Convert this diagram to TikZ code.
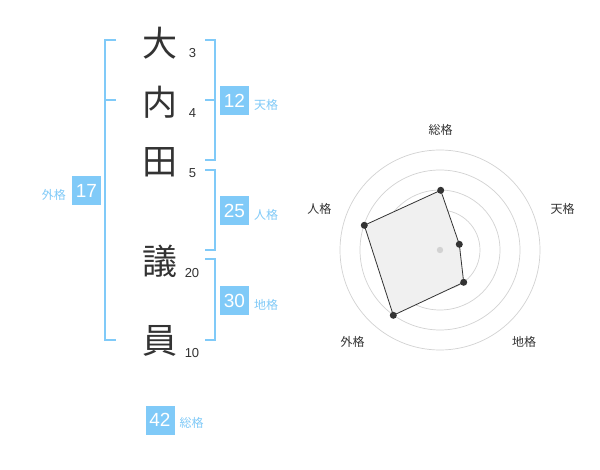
\documentclass[tikz,border=0pt]{standalone}
\usepackage{fontspec}
\setmainfont{Liberation Sans}
\newfontfamily\jp{Noto Sans CJK JP}
\definecolor{bracketblue}{RGB}{128,202,248}
\definecolor{boxblue}{RGB}{128,202,248}
\definecolor{ink}{RGB}{51,51,51}
\definecolor{ringgray}{RGB}{210,210,210}
\tikzset{
  kanji/.style={inner sep=0pt, text=ink, font=\jp\fontsize{35}{35}\selectfont},
  stroke/.style={inner sep=0pt, text=ink, font=\fontsize{13}{13}\selectfont},
  bracket/.style={draw=bracketblue, line width=2pt},
  scorebox/.style={fill=boxblue, text=white, minimum width=29pt, minimum height=29pt, inner sep=0pt, font=\fontsize{19}{19}\selectfont},
  gname/.style={inner sep=0pt, text=bracketblue, font=\jp\fontsize{12}{12}\selectfont},
  ring/.style={draw=ringgray, line width=0.7pt},
  axislabel/.style={inner sep=0pt, text=ink, font=\jp\fontsize{12}{12}\selectfont},
  vertex/.style={circle, fill=ink, inner sep=0pt, minimum size=7pt},
}
\begin{document}
\begin{tikzpicture}[x=1pt,y=-1pt]
\useasboundingbox[fill=white] (0,0) rectangle (600,470);
% kanji
\node[kanji] (k1) at (160,43.5) {大};
\node[kanji] (k2) at (160,102) {内};
\node[kanji] (k3) at (160,162) {田};
\node[kanji] (k4) at (160,261) {議};
\node[kanji] (k5) at (160,341) {員};
% stroke counts
\node[stroke] (s1) at (192.5,53.5) {3};
\node[stroke] (s2) at (192.5,113.5) {4};
\node[stroke] (s3) at (192.5,173.5) {5};
\node[stroke] (s4) at (192,273) {20};
\node[stroke] (s5) at (192,353) {10};
% left bracket (gaikaku)
\coordinate (la) at (116,40);
\coordinate (lb) at (116,340);
\coordinate (lm) at (116,100);
\draw[bracket] (la) -- (105,40) -- (105,340) -- (lb);
\draw[bracket] (105,100) -- (lm);
% right brackets
\coordinate (ra1) at (205,40);
\coordinate (ra2) at (205,160);
\coordinate (ram) at (205,100);
\draw[bracket] (ra1) -- (214.5,40) -- (214.5,160) -- (ra2);
\draw[bracket] (ram) -- (214.5,100);
\coordinate (rb1) at (205,170);
\coordinate (rb2) at (205,250);
\draw[bracket] (rb1) -- (214.5,170) -- (214.5,250) -- (rb2);
\coordinate (rc1) at (205,259.5);
\coordinate (rc2) at (205,340);
\draw[bracket] (rc1) -- (214.5,259.5) -- (214.5,340) -- (rc2);
% score boxes
\node[scorebox] (ten) at (234.5,100.5) {12};
\node[gname, anchor=west] (tenl) at (254,104.5) {\jp 天格};
\node[scorebox] (jin) at (234.5,210.5) {25};
\node[gname, anchor=west] (jinl) at (254,214.5) {\jp 人格};
\node[scorebox] (chi) at (234.5,300.5) {30};
\node[gname, anchor=west] (chil) at (254,304.5) {\jp 地格};
\node[scorebox] (gai) at (86.5,190.5) {17};
\node[gname, anchor=east] (gail) at (66,194.5) {\jp 外格};
\node[scorebox] (sou) at (160,420) {42};
\node[gname, anchor=west] (soul) at (179.5,423) {\jp 総格};
% radar
\coordinate (c) at (440,250);
\foreach \r in {20,40,60,80,100} \draw[ring] (c) circle[radius=\r];
\coordinate (p1) at (440.7,190.3);
\coordinate (p2) at (459.3,244.3);
\coordinate (p3) at (463.7,282.3);
\coordinate (p4) at (393.3,315.3);
\coordinate (p5) at (364.3,225.3);
\draw[fill=black!6, draw=ink, line width=0.8pt] (p1) -- (p2) -- (p3) -- (p4) -- (p5) -- cycle;
\fill[ringgray] (c) circle[radius=3.2];
\foreach \p in {p1,p2,p3,p4,p5} \node[vertex] at (\p) {};
\node[axislabel] (a1) at (440.7,130) {総格};
\node[axislabel] (a2) at (562.7,209) {天格};
\node[axislabel] (a3) at (524,341.7) {地格};
\node[axislabel] (a4) at (352.7,341.7) {外格};
\node[axislabel] (a5) at (319.3,209) {人格};
\end{tikzpicture}
\end{document}
